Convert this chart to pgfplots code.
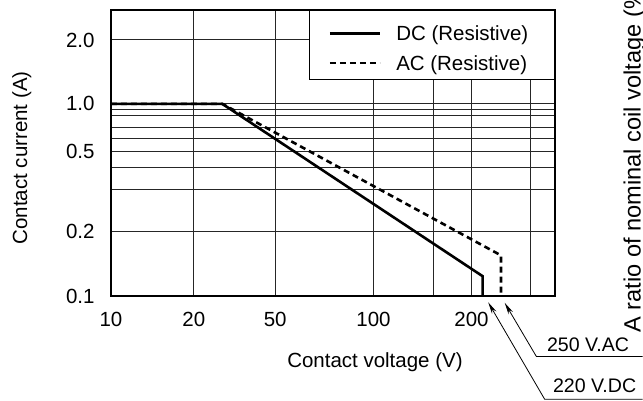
\documentclass[border=0pt]{standalone}
\usepackage{fontspec}
\setmainfont{Liberation Sans}
\usepackage{pgfplots}
\pgfplotsset{compat=1.18}
\usetikzlibrary{arrows.meta}

\begin{document}
\fontsize{10.25}{12}\selectfont
\begin{tikzpicture}
\begin{axis}[
  at={(0,0)}, anchor=south west,
  scale only axis, width=222pt, height=143.25pt,
  x coord trafo/.code={\pgfmathparse{(#1<20) ? (119.74*ln(#1/10)) : ((#1<50) ? (83+88.73*ln(#1/20)) : ((#1<100) ? (164.3+141.96*ln(#1/50)) : ((#1<150) ? (262.7+146.99*ln(#1/100)) : ((#1<200) ? (322.3+133.48*ln(#1/150)) : (360.7+145.51*ln(#1/200))))))}},
  y coord trafo/.code={\pgfmathparse{(#1<0.2) ? (93.49*ln(#1/0.1)) : ((#1<0.3) ? (64.8+104.57*ln(#1/0.2)) : ((#1<0.4) ? (107.2+75.08*ln(#1/0.3)) : ((#1<0.5) ? (128.8+70.36*ln(#1/0.4)) : ((#1<0.6) ? (144.5+75.14*ln(#1/0.5)) : ((#1<0.7) ? (158.2+71.36*ln(#1/0.6)) : ((#1<0.8) ? (169.2+84.62*ln(#1/0.7)) : ((#1<0.9) ? (180.5+56.88*ln(#1/0.8)) : ((#1<0.99) ? (187.2+50.30*ln(#1/0.9)) : (192.5+92.33*ln(#1))))))))))}},
  xmin=10, xmax=354.4, ymin=0.1, ymax=2.768,
  xtick={10,20,50,100,150,200,300},
  xticklabels={10,20,50,100,,200,},
  ytick={0.1,0.2,0.3,0.4,0.5,0.6,0.7,0.8,0.9,1.0,2.0},
  yticklabels={0.1,0.2,,,0.5,,,,,1.0,2.0},
  grid=major,
  major grid style={black!85, line width=0.5pt},
  major tick length=0pt,
  axis line style={line width=1pt},
  xticklabel style={inner sep=0pt, yshift=-7.5pt},
  yticklabel style={inner sep=0pt, xshift=-8pt},
  xlabel={Contact voltage (V)},
  xlabel style={at={(axis description cs:0.595,-0.2496)}, anchor=base, inner sep=0pt},
  ylabel={Contact current (A)},
  ylabel style={at={(axis description cs:-0.189,0.4834)}, anchor=base, inner sep=0pt},
  legend style={at={(1,1)}, anchor=north east, draw=black, line width=0.5pt, fill=white,
    inner xsep=9.5pt, inner ysep=4.75pt, row sep=4.2pt, column sep=7.5pt,
    nodes={inner sep=0pt, text height=10.5pt, text depth=0pt, anchor=base west}},
  legend cell align=left,
  legend image code/.code={\draw[#1] (0pt,3.75pt) -- (25pt,3.75pt);},
]
\addplot[black, line width=1.3pt] coordinates {(10,1) (27.6,1) (216,0.124) (216,0.1)};
\addlegendentry{\makebox[69.5pt][l]{DC (Resistive)}}
\addplot[black, line width=1.3pt, dash pattern=on 3pt off 2pt] coordinates {(10,1) (27.6,1) (245,0.155) (245,0.1)};
\addlegendentry{\makebox[69.5pt][l]{AC (Resistive)}}
\end{axis}
\begin{scope}[x=0.5pt,y=-0.5pt,xshift=-55.5pt,yshift=148.25pt]
\begin{scope}
\clip (0,0) rectangle (643,401);
\node[rotate=90, anchor=base west, inner sep=0pt, font=\fontsize{11.8}{14}\selectfont] at (641,333) {A ratio of nominal coil voltage (\%)};
\end{scope}
\draw[line width=0.4pt, -{Stealth[length=6pt,width=2.5pt]}] (643,356.7) -- (536.7,356.7) -- (505,303);
\draw[line width=0.4pt, -{Stealth[length=6pt,width=2.5pt]}] (643,399.5) -- (545,399.5) -- (488.5,302.5);
\node[anchor=base west, inner sep=0pt, font=\fontsize{9.8}{12}\selectfont] at (547,352) {250 V.AC};
\node[anchor=base west, inner sep=0pt, font=\fontsize{9.8}{12}\selectfont] at (553,393) {220 V.DC};
\useasboundingbox (0,0) rectangle (643,401);
\end{scope}
\end{tikzpicture}
\end{document}
